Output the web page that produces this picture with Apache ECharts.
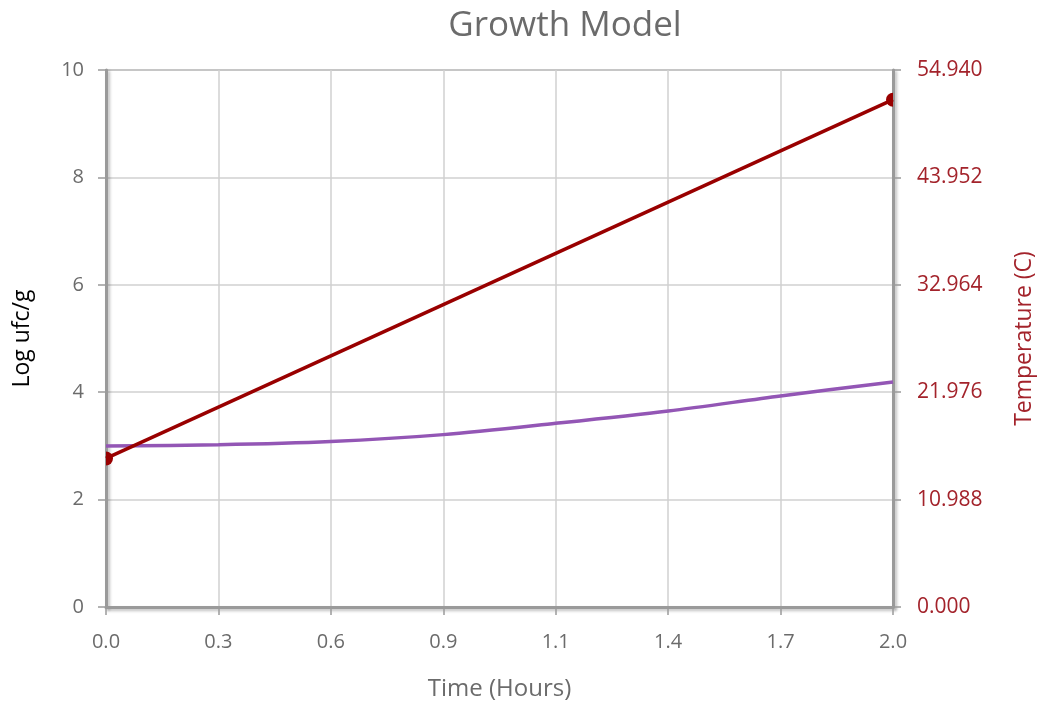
<!DOCTYPE html>
<html>
<head>
<meta charset="utf-8">
<title>Growth Model</title>
<script src="https://cdn.jsdelivr.net/npm/echarts@6/dist/echarts.min.js"></script>
<style>
  html, body { margin: 0; padding: 0; background: #fff; }
  #chart { width: 1038px; height: 704px; }
</style>
</head>
<body>
<div id="chart"></div>
<script>
// Time axis (hours) and modelled microbial count
const timeHours = [0, 0.286, 0.571, 0.857, 1.143, 1.429, 1.714, 2.0];
const logCount = [3.00, 3.02, 3.08, 3.21, 3.42, 3.65, 3.93, 4.19];

// Temperature profile (start / end)
const tempTime = [0, 2.0];
const tempC = [15.2, 51.9];

// Axis ranges
const xMin = 0, xMax = 2, xStep = 2 / 7;
const logMin = 0, logMax = 10, logStep = 2;
const tempMin = 0, tempMax = 54.94, tempStep = 10.988;

const FONT = 'Open Sans';
const GREY = '#6b6b6b';
const RED_TXT = '#a3232b';
const RED_LINE = '#990000';
const PURPLE = '#9356b5';
const AXIS_GREY = '#9a9a9a';

// Half-round end markers, trimmed at the plot border
const halfRight = 'path://M0,0 A10,10 0 0 1 0,20 Z';
const halfLeft = 'path://M10,0 A10,10 0 0 0 10,20 Z';

const tempData = tempTime.map((t, i) => ({
  value: [t, tempC[i]],
  symbol: i === 0 ? halfRight : halfLeft,
  symbolOffset: i === 0 ? [3.5, 0] : [-3.5, 0]
}));

const axisShadow = {
  color: AXIS_GREY, width: 3,
  shadowColor: 'rgba(0,0,0,0.25)', shadowBlur: 3, shadowOffsetX: 2, shadowOffsetY: 2
};

const chart = echarts.init(document.getElementById('chart'));
chart.setOption({
  animation: false,
  textStyle: { fontFamily: FONT },
  title: {
    text: 'Growth Model',
    left: 560, top: 4, textAlign: 'center',
    textStyle: { fontFamily: FONT, fontSize: 35, fontWeight: 500, color: GREY }
  },
  grid: {
    left: 106, right: 145, top: 70, bottom: 97,
    outerBoundsMode: 'none', containLabel: false,
    show: true, borderColor: '#a8a8a8', borderWidth: 2, backgroundColor: 'transparent'
  },
  xAxis: {
    type: 'value', min: xMin, max: xMax, interval: xStep,
    name: 'Time (Hours)', nameLocation: 'middle', nameGap: 70,
    nameTextStyle: { fontFamily: FONT, fontSize: 24, color: GREY },
    axisLine: { show: true, onZero: false, lineStyle: axisShadow },
    axisTick: { show: true, length: 8, lineStyle: { color: AXIS_GREY, width: 1.5 } },
    axisLabel: {
      margin: 25, fontSize: 20, color: GREY, fontFamily: FONT,
      formatter: v => v.toFixed(1)
    },
    splitLine: { show: true, lineStyle: { color: '#d0d0d0', width: 1.5 } }
  },
  yAxis: [
    {
      type: 'value', position: 'left', min: logMin, max: logMax, interval: logStep,
      name: 'Log ufc/g', nameLocation: 'middle', nameGap: 72, nameRotate: 90,
      nameTextStyle: { fontFamily: FONT, fontSize: 23, color: '#000' },
      axisLine: { show: true, lineStyle: axisShadow },
      axisTick: { show: true, length: 8, lineStyle: { color: AXIS_GREY, width: 1.5 } },
      axisLabel: { margin: 22, fontSize: 20, color: GREY, fontFamily: FONT },
      splitLine: { show: true, lineStyle: { color: '#d0d0d0', width: 1.5 } }
    },
    {
      type: 'value', position: 'right', min: tempMin, max: tempMax, interval: tempStep,
      name: 'Temperature (C)', nameLocation: 'middle', nameGap: 120, nameRotate: 90,
      nameTextStyle: { fontFamily: FONT, fontSize: 23, color: RED_TXT },
      axisLine: { show: true, lineStyle: axisShadow },
      axisTick: { show: true, length: 8, lineStyle: { color: AXIS_GREY, width: 1.5 } },
      axisLabel: {
        margin: 24, fontSize: 21, color: RED_TXT, fontFamily: FONT,
        formatter: v => v.toFixed(3)
      },
      splitLine: { show: false }
    }
  ],
  series: [
    {
      name: 'Log ufc/g', type: 'line', yAxisIndex: 0,
      data: timeHours.map((t, i) => [t, logCount[i]]),
      smooth: 0.3, showSymbol: false, symbol: 'none',
      lineStyle: { color: PURPLE, width: 3.5 },
      z: 3
    },
    {
      name: 'Temperature', type: 'line', yAxisIndex: 1,
      data: tempData,
      symbolSize: [7, 14], showSymbol: true,
      itemStyle: { color: RED_LINE },
      lineStyle: { color: RED_LINE, width: 3.5 },
      z: 4
    }
  ]
});
</script>
</body>
</html>
